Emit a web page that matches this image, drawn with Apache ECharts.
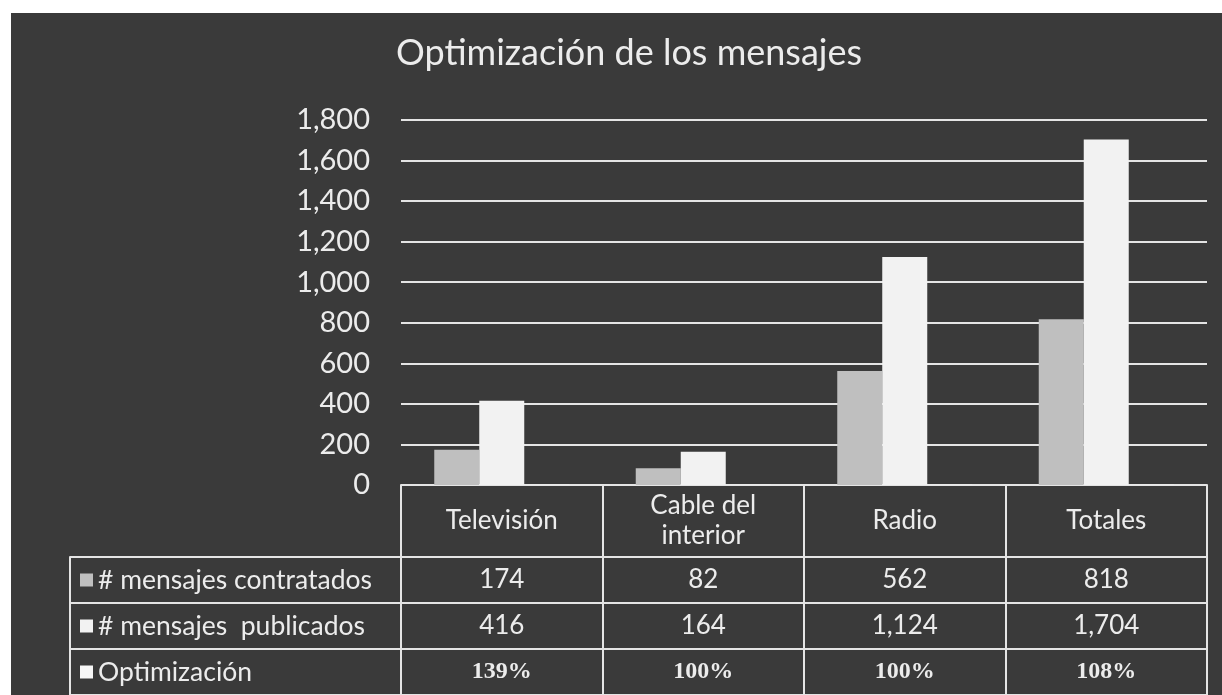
<!DOCTYPE html>
<html>
<head>
<meta charset="utf-8">
<script src="https://cdn.jsdelivr.net/npm/echarts@6/dist/echarts.min.js"></script>
<style>
  html, body { margin: 0; padding: 0; background: #ffffff; }
  #chart {
    position: absolute;
    left: 11px;
    top: 13px;
    width: 1211px;
    height: 682px;
    background: #3a3a3a;
  }
</style>
</head>
<body>
<div id="chart"></div>
<script>
const categories = ['Televisión', 'Cable del\ninterior', 'Radio', 'Totales']
const seriesNames = ['# mensajes contratados', '# mensajes  publicados', 'Optimización']
const contratados = [174, 82, 562, 818]
const publicados = [416, 164, 1124, 1704]
const optimizacion = [139, 100, 100, 108] // percent
const yTicks = [0, 200, 400, 600, 800, 1000, 1200, 1400, 1600, 1800]

const colors = ['#bfbfbf', '#f2f2f2', '#f7f7f7']
const lineColor = '#e4e4e4'
const textColor = '#ececec'
const fontFamily = 'Lato, "Open Sans", sans-serif'

const fmt = (v) => v.toLocaleString('en-US')

// table cells: [column, row]
const cellRows = [
  contratados.map(fmt),
  publicados.map(fmt),
  optimizacion.map(v => v + '%')
]
const cellData = []
const cellText = []
cellRows.forEach((row, r) => {
  row.forEach((txt, c) => {
    cellData.push([c, r])
    cellText.push(txt)
  })
})

const chart = echarts.init(document.getElementById('chart'))

const option = {
  backgroundColor: 'transparent',
  textStyle: { fontFamily },
  title: {
    text: 'Optimización de los mensajes',
    left: 380,
    top: 17,
    textStyle: { color: textColor, fontSize: 36, fontWeight: 'normal', fontFamily }
  },
  grid: [
    { left: 390, right: 15, top: 107, bottom: 210 },
    { left: 390, right: 15, top: 544, height: 139.5 }
  ],
  xAxis: [
    {
      type: 'category',
      gridIndex: 0,
      data: categories,
      axisLine: { show: true, lineStyle: { color: lineColor, width: 2 } },
      axisTick: { show: true, interval: 0, length: 72, lineStyle: { color: lineColor, width: 2 } },
      axisLabel: {
        interval: 0,
        color: textColor,
        fontSize: 26,
        lineHeight: 30,
        margin: 36,
        verticalAlign: 'middle',
        fontFamily
      }
    },
    {
      type: 'category',
      gridIndex: 1,
      position: 'top',
      data: categories,
      axisLine: { show: true, lineStyle: { color: lineColor, width: 2 } },
      axisTick: { show: true, inside: true, interval: 0, length: 140, lineStyle: { color: lineColor, width: 2 } },
      axisLabel: { show: false },
      splitLine: { show: false }
    }
  ],
  yAxis: [
    {
      type: 'value',
      gridIndex: 0,
      min: yTicks[0],
      max: yTicks[yTicks.length - 1],
      interval: yTicks[1] - yTicks[0],
      axisLine: { show: false },
      axisTick: { show: false },
      axisLabel: { color: textColor, fontSize: 29, margin: 31, formatter: fmt, fontFamily },
      splitLine: { lineStyle: { color: lineColor, width: 2 } }
    },
    {
      type: 'category',
      gridIndex: 1,
      inverse: true,
      data: seriesNames,
      axisLine: { show: true, lineStyle: { color: lineColor, width: 2 } },
      axisTick: { show: true, interval: 0, length: 331, lineStyle: { color: lineColor, width: 2 } },
      axisLabel: {
        align: 'left',
        margin: 321,
        interval: 0,
        formatter: (v, i) => `{s${i}|}{t|${v}}`,
        rich: {
          s0: { width: 13, height: 13, backgroundColor: colors[0] },
          s1: { width: 13, height: 13, backgroundColor: colors[1] },
          s2: { width: 13, height: 13, backgroundColor: colors[2] },
          t: { color: textColor, fontSize: 26.5, padding: [0, 0, 0, 5], fontFamily }
        }
      },
      splitLine: { show: true, lineStyle: { color: lineColor, width: 2 } }
    },
    {
      // left border of the legend column
      type: 'category',
      gridIndex: 1,
      position: 'left',
      offset: 331,
      data: seriesNames,
      axisLine: { show: true, lineStyle: { color: lineColor, width: 2 } },
      axisTick: { show: false },
      axisLabel: { show: false },
      splitLine: { show: false }
    }
  ],
  series: [
    {
      name: seriesNames[0],
      type: 'bar',
      xAxisIndex: 0,
      yAxisIndex: 0,
      data: contratados,
      itemStyle: { color: colors[0] },
      barGap: '0%',
      barCategoryGap: '33%',
      animation: false
    },
    {
      name: seriesNames[1],
      type: 'bar',
      xAxisIndex: 0,
      yAxisIndex: 0,
      data: publicados,
      itemStyle: { color: colors[1] },
      barGap: '0%',
      barCategoryGap: '33%',
      animation: false
    },
    {
      name: seriesNames[2],
      type: 'bar',
      xAxisIndex: 0,
      yAxisIndex: 0,
      data: optimizacion.map(v => v / 100),
      itemStyle: { color: colors[2] },
      barGap: '0%',
      barCategoryGap: '33%',
      animation: false
    },
    {
      name: 'tabla',
      type: 'custom',
      xAxisIndex: 1,
      yAxisIndex: 1,
      data: cellData,
      animation: false,
      silent: true,
      renderItem: (params, api) => {
        const row = api.value(1)
        const p = api.coord([api.value(0), row])
        const bold = row === 2
        return {
          type: 'text',
          x: p[0],
          y: p[1],
          style: {
            text: cellText[params.dataIndex],
            align: 'center',
            verticalAlign: 'middle',
            fill: textColor,
            font: bold ? 'bold 24px "Liberation Serif", serif' : '26px ' + fontFamily
          }
        }
      }
    }
  ]
}

chart.setOption(option)
</script>
</body>
</html>
